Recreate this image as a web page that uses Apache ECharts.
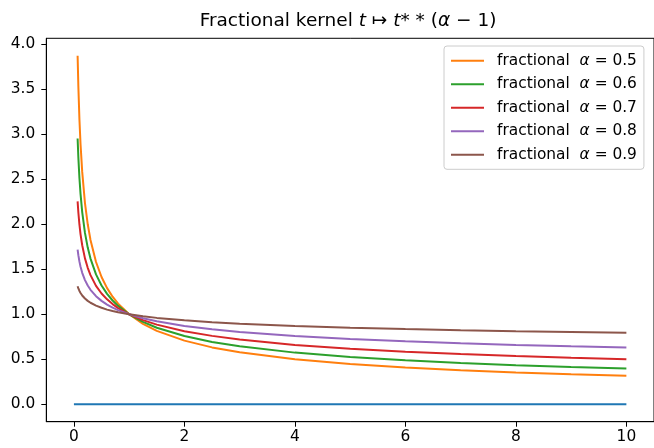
<!DOCTYPE html>
<html>
<head>
<meta charset="utf-8">
<script src="https://cdn.jsdelivr.net/npm/echarts@6/dist/echarts.min.js"></script>
<style>html,body{margin:0;padding:0;background:#fff;}#c{width:654px;height:448px;}</style>
</head>
<body>
<div id="c"></div>
<script>
// sample times t
const tVals = [0.0667, 0.08, 0.1, 0.12, 0.15, 0.2, 0.25, 0.3, 0.4, 0.5, 0.6, 0.7, 0.8, 1.0, 1.25, 1.5, 2, 2.5, 3, 4, 5, 6, 7, 8, 9, 10];
const alpha05 = [3.873, 3.536, 3.162, 2.887, 2.582, 2.236, 2.0, 1.826, 1.581, 1.414, 1.291, 1.195, 1.118, 1.0, 0.894, 0.816, 0.707, 0.632, 0.577, 0.5, 0.447, 0.408, 0.378, 0.354, 0.333, 0.316];
const alpha06 = [2.954, 2.746, 2.512, 2.335, 2.136, 1.904, 1.741, 1.619, 1.443, 1.320, 1.227, 1.153, 1.093, 1.0, 0.915, 0.850, 0.758, 0.693, 0.644, 0.574, 0.525, 0.488, 0.459, 0.435, 0.415, 0.398];
const alpha07 = [2.254, 2.134, 1.995, 1.889, 1.767, 1.621, 1.516, 1.435, 1.316, 1.231, 1.166, 1.113, 1.069, 1.0, 0.935, 0.885, 0.812, 0.760, 0.719, 0.660, 0.617, 0.584, 0.558, 0.536, 0.517, 0.501];
const alpha08 = [1.719, 1.657, 1.585, 1.528, 1.461, 1.380, 1.320, 1.272, 1.201, 1.149, 1.108, 1.074, 1.046, 1.0, 0.956, 0.922, 0.871, 0.833, 0.803, 0.758, 0.725, 0.699, 0.678, 0.660, 0.644, 0.631];
const alpha09 = [1.311, 1.287, 1.259, 1.236, 1.209, 1.175, 1.149, 1.128, 1.096, 1.072, 1.052, 1.036, 1.023, 1.0, 0.978, 0.960, 0.933, 0.912, 0.896, 0.871, 0.851, 0.836, 0.823, 0.812, 0.803, 0.794];
const zeroT = [0, 10];
const zeroV = [0, 0];
const seriesNames = ['fractional  α = 0.5', 'fractional  α = 0.6', 'fractional  α = 0.7', 'fractional  α = 0.8', 'fractional  α = 0.9'];
const xTicks = [0, 2, 4, 6, 8, 10];
const yTicks = [0, 0.5, 1, 1.5, 2, 2.5, 3, 3.5, 4];

const colors = ['#ff7f0e', '#2ca02c', '#d62728', '#9467bd', '#8c564b'];
const seriesVals = [alpha05, alpha06, alpha07, alpha08, alpha09];
const FONT = 'DejaVu Sans';
const FS = 15.4;
const TFS = 18.5;

function pairs(xs, ys) { return xs.map((x, i) => [x, ys[i]]); }

const series = [{
  name: 'zero', type: 'line', data: pairs(zeroT, zeroV), symbol: 'none',
  lineStyle: { color: '#1f77b4', width: 2 }, itemStyle: { color: '#1f77b4' }, z: 2
}];
seriesVals.forEach((vals, k) => {
  series.push({
    name: seriesNames[k], type: 'line', data: pairs(tVals, vals), symbol: 'none',
    lineStyle: { color: colors[k], width: 2 }, itemStyle: { color: colors[k] }, z: 3 + k
  });
});

const chart = echarts.init(document.getElementById('c'), null, { renderer: 'canvas' });
chart.setOption({
  animation: false,
  backgroundColor: '#fff',
  title: {
    text: '{n|Fractional kernel }{i|t}{n| ↦ }{i|t}{n|* * (}{i|α}{n| − 1)}',
    left: 343, top: 7, textAlign: 'center',
    textStyle: {
      fontFamily: FONT, fontSize: TFS, fontWeight: 'normal', color: '#000',
      rich: {
        n: { fontFamily: FONT, fontSize: TFS, color: '#000' },
        i: { fontFamily: FONT, fontSize: TFS, fontStyle: 'italic', color: '#000' }
      }
    }
  },
  grid: { left: 46.3, right: -2, top: 38.3, bottom: 26.3, show: true, borderColor: '#000', borderWidth: 1, containLabel: false },
  legend: {
    data: seriesNames,
    orient: 'vertical', left: 444, top: 46,
    padding: [7.3, 7, 7, 6],
    itemWidth: 33, itemHeight: 14, itemGap: 8.5,
    backgroundColor: 'rgba(255,255,255,0.8)', borderColor: '#cccccc', borderWidth: 1, borderRadius: 3,
    itemStyle: { opacity: 0 },
    formatter: name => name.replace('α', '{i|α}'),
    textStyle: {
      fontFamily: FONT, fontSize: FS, color: '#000', padding: [0, 0, 0, 8],
      rich: { i: { fontFamily: FONT, fontSize: FS, fontStyle: 'italic', color: '#000' } }
    }
  },
  xAxis: {
    type: 'value', min: -0.5, max: 10.5,
    axisLine: { show: true, onZero: false, lineStyle: { color: '#000', width: 1 } },
    axisTick: { show: true, inside: false, length: 5, customValues: xTicks, lineStyle: { color: '#000' } },
    axisLabel: { customValues: xTicks, margin: 8, color: '#000', fontFamily: FONT, fontSize: FS, formatter: v => String(v) },
    splitLine: { show: false }
  },
  yAxis: {
    type: 'value', min: -0.1936, max: 4.0666,
    axisLine: { show: true, onZero: false, lineStyle: { color: '#000', width: 1 } },
    axisTick: { show: true, inside: false, length: 5, customValues: yTicks, lineStyle: { color: '#000' } },
    axisLabel: { customValues: yTicks, margin: 11, color: '#000', fontFamily: FONT, fontSize: FS, formatter: v => v.toFixed(1) },
    splitLine: { show: false }
  },
  series: series
});
</script>
</body>
</html>
